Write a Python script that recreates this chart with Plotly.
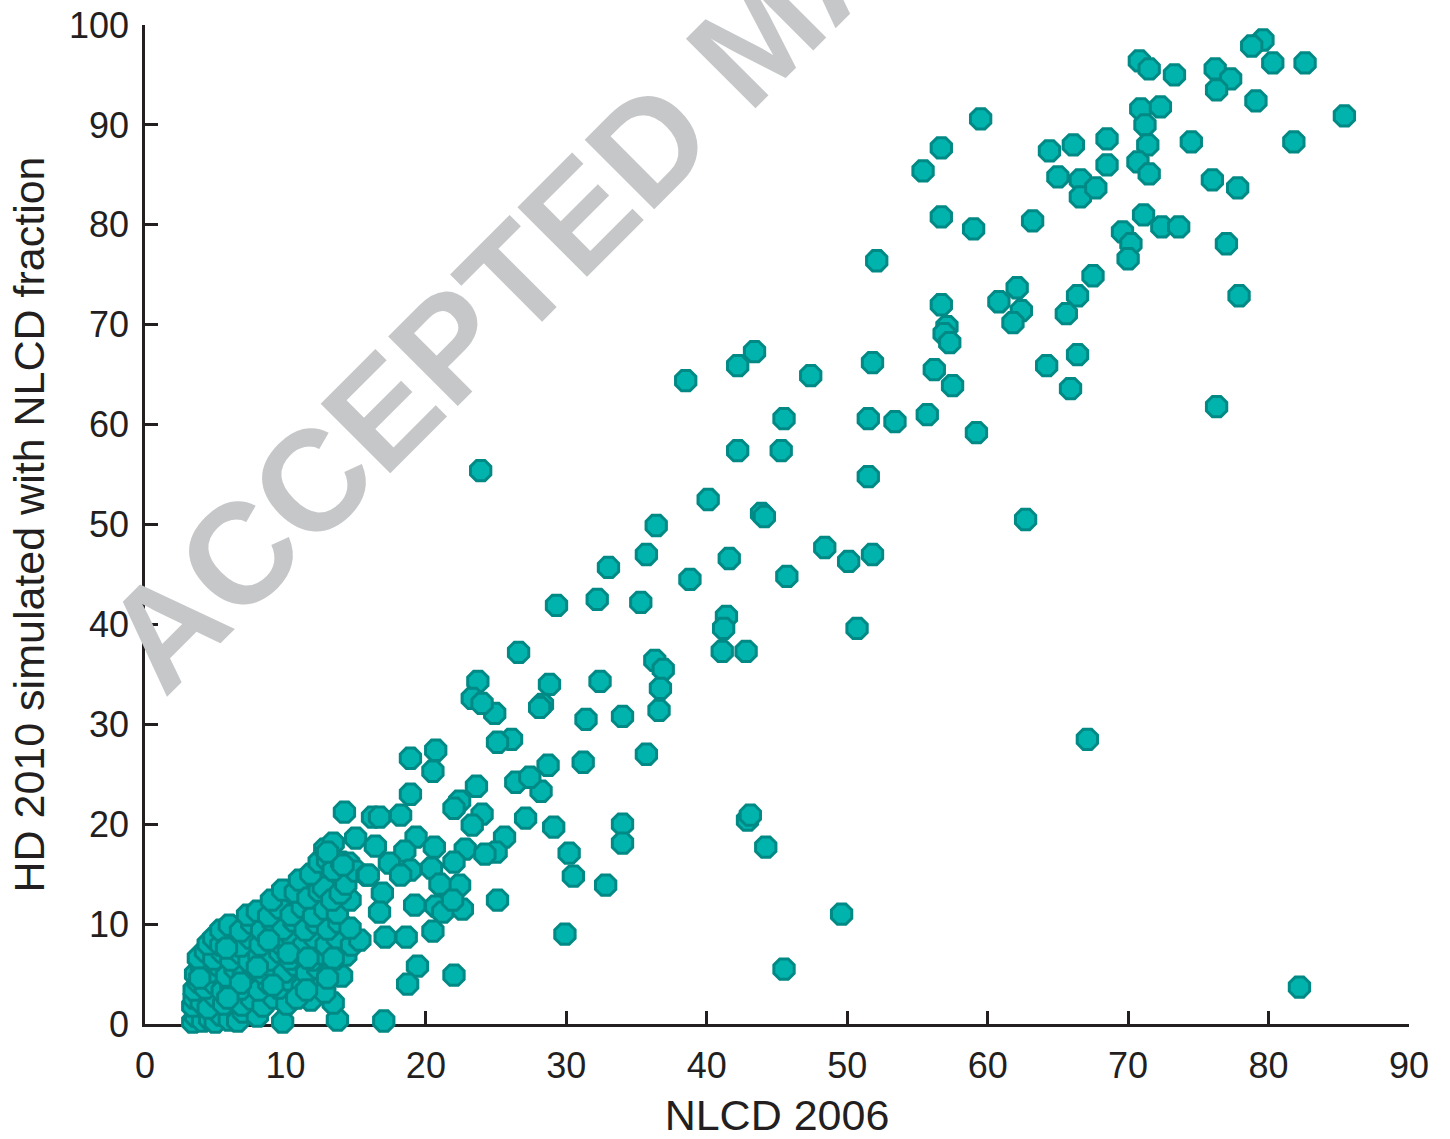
import plotly.graph_objects as go

# ---- data: NLCD 2006 (x) vs HD 2010 simulated with NLCD fraction (y) ----
# widely spread points
spread_x = [79.6, 78.8, 82.6, 80.3, 70.8, 71.5, 73.3, 76.2, 77.3, 76.3, 79.1, 70.9, 72.3, 71.2, 85.4,
            59.5, 74.5, 81.8, 71.4, 64.4, 66.1, 68.5, 56.7, 70.7, 68.5, 71.5, 65.0, 66.6, 76.0, 66.6,
            67.7, 77.8, 55.4, 56.7, 71.1, 63.2, 72.4, 73.6, 59.0, 69.6, 70.2, 77.0, 70.0, 52.1, 67.5,
            62.1, 77.9, 66.4, 60.8, 56.7, 62.4, 65.6, 61.8, 57.1, 56.9, 57.3, 43.4, 66.4, 51.8, 42.2,
            56.2, 64.2, 47.4, 38.5, 57.5, 65.9, 76.3, 45.5, 51.5, 53.4, 55.7, 59.2, 42.2, 45.3, 51.5,
            23.9, 40.1, 43.9, 44.1, 62.7, 36.4, 35.7, 48.4, 51.8, 50.1, 41.6, 33.0, 38.8, 45.7, 29.3,
            32.2, 35.3, 41.4, 41.2, 50.7, 41.1, 42.8, 26.6, 36.3, 36.9, 23.7, 28.8, 32.4, 36.7, 23.3,
            24.9, 28.3, 28.1, 36.6, 31.4, 34.0, 26.1, 25.1, 67.1, 20.7, 18.9, 35.7, 20.5, 31.2, 28.7,
            26.4, 23.6, 28.2, 22.4, 18.9, 22.0, 24.0, 14.2, 16.2, 16.7, 42.9, 43.1, 18.2, 27.1, 29.1,
            34.0, 23.3, 19.3, 25.6, 15.0, 34.0, 20.6, 44.2, 22.8, 16.4, 18.5, 25.0, 24.2, 30.2, 22.0,
            20.4, 18.9, 30.5, 32.8, 22.4, 21.0, 25.1, 19.2, 20.7, 22.6, 21.2, 21.9, 49.6, 20.5, 29.9,
            18.6, 17.1, 19.4, 18.7, 22.0, 45.5, 82.2, 17.0, 17.4, 18.2, 15.9, 16.9, 16.7, 24.0, 27.4]
spread_y = [98.5, 97.9, 96.2, 96.2, 96.4, 95.6, 95.0, 95.6, 94.6, 93.5, 92.4, 91.6, 91.8, 90.0, 90.9,
            90.6, 88.3, 88.3, 88.0, 87.4, 88.0, 88.6, 87.7, 86.3, 86.0, 85.1, 84.8, 84.5, 84.5, 82.8,
            83.7, 83.7, 85.4, 80.8, 81.0, 80.4, 79.8, 79.8, 79.6, 79.3, 78.1, 78.1, 76.6, 76.4, 74.9,
            73.7, 72.9, 72.9, 72.3, 72.0, 71.4, 71.1, 70.2, 69.8, 69.1, 68.2, 67.3, 67.0, 66.2, 65.9,
            65.5, 65.9, 64.9, 64.4, 63.9, 63.6, 61.8, 60.6, 60.6, 60.3, 61.0, 59.2, 57.4, 57.4, 54.8,
            55.4, 52.5, 51.1, 50.8, 50.5, 49.9, 47.0, 47.7, 47.0, 46.3, 46.6, 45.7, 44.5, 44.8, 41.9,
            42.5, 42.2, 40.8, 39.6, 39.6, 37.3, 37.3, 37.2, 36.4, 35.5, 34.3, 34.0, 34.3, 33.6, 32.6,
            31.1, 32.0, 31.7, 31.4, 30.5, 30.8, 28.5, 28.2, 28.5, 27.4, 26.6, 27.0, 25.3, 26.2, 25.9,
            24.2, 23.8, 23.3, 22.3, 23.0, 21.6, 21.0, 21.2, 20.7, 20.7, 20.4, 20.9, 20.9, 20.6, 19.7,
            20.0, 19.9, 18.7, 18.7, 18.6, 18.1, 17.7, 17.7, 17.5, 17.8, 17.3, 17.2, 17.0, 17.1, 16.2,
            15.6, 15.4, 14.8, 13.9, 13.9, 14.0, 12.4, 11.9, 11.8, 11.5, 11.2, 12.4, 11.0, 9.3, 9.0,
            8.7, 8.7, 5.8, 4.0, 4.9, 5.5, 3.7, 0.3, 16.1, 14.9, 14.9, 13.1, 11.2, 32.1, 24.7]

# dense cluster of low values near the origin
cluster_x = [3.4, 3.6, 4.1, 4.6, 5.0, 5.4, 6.0, 6.6, 7.0, 8.0, 9.8, 13.7, 13.4,
             3.4, 3.5, 4.0, 4.5, 5.0, 5.6, 6.2, 6.9, 7.6, 8.4, 9.2, 10.1, 10.8, 11.8,
             3.5, 3.8, 4.3, 4.9, 5.5, 6.1, 6.8, 7.4, 8.1, 8.8, 9.5, 10.3, 11.2, 12.0, 12.8,
             3.6, 4.0, 4.6, 5.2, 5.8, 6.4, 7.0, 7.7, 8.4, 9.1, 9.9, 10.7, 11.5, 12.3, 13.1, 14.0,
             3.8, 4.3, 4.9, 5.5, 6.1, 6.8, 7.4, 8.1, 8.8, 9.6, 10.3, 11.1, 11.9, 12.7, 13.5, 14.3,
             4.5, 4.9, 5.4, 6.1, 6.8, 7.5, 8.2, 8.9, 9.7, 10.5, 11.3, 12.1, 12.9, 13.7, 14.7, 15.3,
             5.4, 6.0, 6.8, 7.6, 8.3, 9.1, 9.8, 10.6, 11.4, 12.2, 13.0, 13.8, 14.6,
             7.3, 8.0, 8.8, 9.6, 10.4, 11.2, 12.0, 12.8, 13.7, 14.6,
             9.0, 9.8, 10.7, 11.0, 11.6, 12.4, 12.7, 13.3, 13.9, 14.3,
             11.8, 12.4, 12.8, 13.0, 13.4, 14.0, 14.5, 13.4, 13.0, 15.0, 14.1, 15.8,
             5.8, 8.8, 10.2, 11.6, 13.4, 8.0, 3.9, 6.8, 9.1, 10.8, 11.5, 13.0, 5.9]
cluster_y = [0.2, 0.8, 0.3, 0.5, 0.2, 0.9, 0.4, 0.3, 1.2, 0.8, 0.2, 0.4, 2.1,
             1.8, 2.6, 2.2, 1.6, 2.8, 2.0, 2.6, 1.9, 2.5, 1.8, 2.6, 2.0, 2.9, 2.4,
             3.4, 4.2, 3.6, 4.1, 3.3, 4.0, 3.5, 4.3, 3.4, 4.1, 3.6, 4.4, 3.7, 4.2, 3.2,
             5.0, 5.8, 5.2, 5.9, 4.8, 5.6, 5.0, 5.8, 5.1, 5.7, 5.2, 5.9, 5.1, 5.6, 5.0, 4.8,
             6.6, 7.3, 6.5, 7.2, 6.4, 7.1, 6.3, 7.0, 6.4, 7.2, 6.5, 7.1, 6.4, 7.0, 6.5, 6.9,
             8.0, 8.6, 7.9, 8.5, 7.8, 8.6, 7.9, 8.7, 8.0, 8.7, 7.9, 8.6, 7.9, 8.6, 7.9, 8.4,
             9.4, 9.9, 9.3, 10.1, 9.4, 10.2, 9.5, 10.3, 9.4, 10.1, 9.5, 10.2, 9.6,
             10.9, 11.3, 10.8, 11.6, 10.9, 11.7, 10.8, 11.5, 11.1, 12.4,
             12.4, 13.4, 13.2, 14.4, 12.6, 13.3, 13.7, 12.4, 13.1, 14.0,
             15.0, 16.2, 17.5, 16.4, 15.4, 16.2, 16.1, 18.1, 17.2, 15.3, 15.9, 14.9,
             7.6, 8.4, 7.1, 6.6, 6.6, 5.7, 4.6, 4.1, 3.9, 2.6, 3.4, 4.6, 2.6]

x_ticks = [0, 10, 20, 30, 40, 50, 60, 70, 80, 90]
y_ticks = [0, 10, 20, 30, 40, 50, 60, 70, 80, 90, 100]
x_title = "NLCD 2006"
y_title = "HD 2010 simulated with NLCD fraction"
watermark = "ACCEPTED MANUSCRIPT"

FILL = "#00b3ac"
EDGE = "#008985"
AXIS = "#231f20"
FONT = "Liberation Sans, Arial, sans-serif"

fig = go.Figure()
fig.add_trace(go.Scatter(
    x=cluster_x + spread_x, y=cluster_y + spread_y, mode="markers",
    marker=dict(symbol="octagon", size=22, color=FILL, line=dict(color=EDGE, width=3)),
    cliponaxis=False, showlegend=False, hoverinfo="skip"))

axis_common = dict(showgrid=False, zeroline=False, showline=True, linewidth=2.5, linecolor=AXIS,
                   ticks="inside", ticklen=13, tickwidth=2.5, tickcolor=AXIS, layer="below traces",
                   tickfont=dict(family=FONT, size=36, color=AXIS), mirror=False, automargin=False)

fig.update_layout(
    width=1450, height=1139,
    margin=dict(l=145, r=41, t=25, b=115),
    paper_bgcolor="white", plot_bgcolor="white",
    xaxis=dict(range=[0, 90], tickvals=x_ticks, ticktext=[str(v) for v in x_ticks],
               ticklabelstandoff=8,
               title=dict(text=x_title, font=dict(family=FONT, size=43, color=AXIS), standoff=15),
               **axis_common),
    yaxis=dict(range=[0, 100], tickvals=y_ticks, ticktext=[str(v) for v in y_ticks],
               ticklabelstandoff=6,
               title=dict(text=y_title, font=dict(family=FONT, size=43, color=AXIS), standoff=11),
               **axis_common),
    annotations=[dict(text=watermark, xref="paper", yref="paper", x=0.486, y=0.990,
                      xanchor="center", yanchor="middle", textangle=-45, showarrow=False,
                      font=dict(family=FONT, size=143, color="#c6c7c9", weight="bold"))],
)

fig.write_html("out.html")
